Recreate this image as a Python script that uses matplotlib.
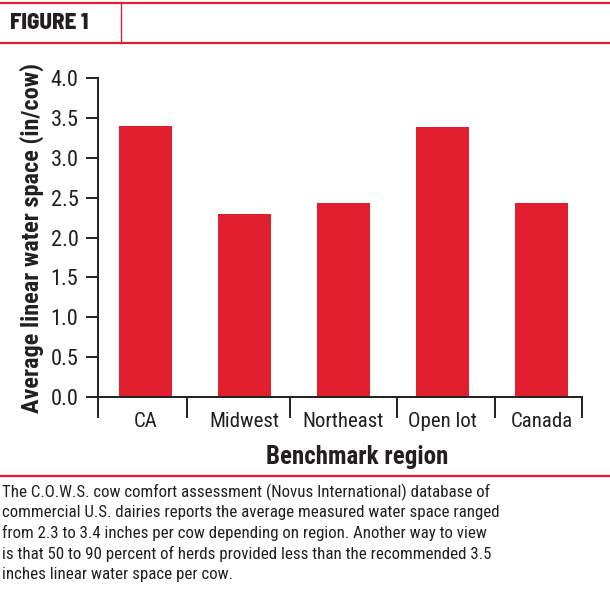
import matplotlib.pyplot as plt
import matplotlib.lines as mlines
import numpy as np

regions = ["CA", "Midwest", "Northeast", "Open lot", "Canada"]
water_space = [3.40, 2.30, 2.43, 3.39, 2.44]
y_ticks = [0.0, 0.5, 1.0, 1.5, 2.0, 2.5, 3.0, 3.5, 4.0]
caption_lines = [
    "The C.O.W.S. cow comfort assessment (Novus International) database of",
    "commercial U.S. dairies reports the average measured water space ranged",
    "from 2.3 to 3.4 inches per cow depending on region. Another way to view",
    "is that 50 to 90 percent of herds provided less than the recommended 3.5",
    "inches linear water space per cow.",
]

RED = "#E21F2F"
INK = "#231F20"
plt.rcParams["font.family"] = ["Roboto Condensed", "DejaVu Sans"]
HEAD_FONT = ["Barlow Semi Condensed", "Roboto Condensed", "DejaVu Sans"]

W, H = 610, 597
fig = plt.figure(figsize=(W / 100, H / 100), dpi=100)

# pixel helpers for the figure-level layout
def fx(px):
    return px / W

def fy(py):
    return 1 - py / H

# header box
for y in (3, 43):
    fig.add_artist(mlines.Line2D([0, 1], [fy(y), fy(y)], color=RED, lw=1.6))
fig.add_artist(mlines.Line2D([fx(121), fx(121)], [fy(3), fy(43)], color=RED, lw=1.0))
fig.text(fx(10), fy(23), "FIGURE 1", family=HEAD_FONT, fontsize=16.5,
         fontweight=800, color=INK, va="center", ha="left")

# chart
ax = fig.add_axes([fx(98), fy(397), fx(582) - fx(98), fy(78.3) - fy(397)])
x = np.arange(len(regions))
ax.bar(x, water_space, width=0.53, color=RED)

ax.set_ylim(0, 4)
ax.set_xlim(-0.48, 4.41)
ax.set_yticks(y_ticks)
ax.set_yticklabels([f"{v:.1f}" for v in y_ticks])
ax.set_xticks(x)
ax.set_xticklabels(regions)
ax.set_xticks([-0.48, 0.42, 1.46, 2.54, 3.53, 4.41], minor=True)

for s in ("top", "right"):
    ax.spines[s].set_visible(False)
for s in ("left", "bottom"):
    ax.spines[s].set_color(INK)
    ax.spines[s].set_linewidth(1.4)

ax.tick_params(axis="y", direction="out", length=9, width=1.4, color=INK,
               labelsize=16, labelcolor=INK, pad=5)
ax.tick_params(axis="x", which="major", length=0, labelsize=15,
               labelcolor=INK, pad=11)
ax.tick_params(axis="x", which="minor", direction="out", length=15,
               width=1.4, color=INK)

ax.set_xlabel("Benchmark region", fontsize=18, fontweight="bold",
              color=INK, va="center")
ax.xaxis.set_label_coords(0.535, -0.188)
ax.set_ylabel("Average linear water space (in/cow)", fontsize=17.5,
              fontweight="bold", color=INK, labelpad=5)

# caption
fig.add_artist(mlines.Line2D([0, 1], [fy(476), fy(476)], color=RED, lw=1.6))
for i, line in enumerate(caption_lines):
    fig.text(fx(2), fy(492 + i * 20.7), line, fontsize=12.2, color=INK,
             va="center", ha="left")

fig.savefig("out.png", dpi=100)
